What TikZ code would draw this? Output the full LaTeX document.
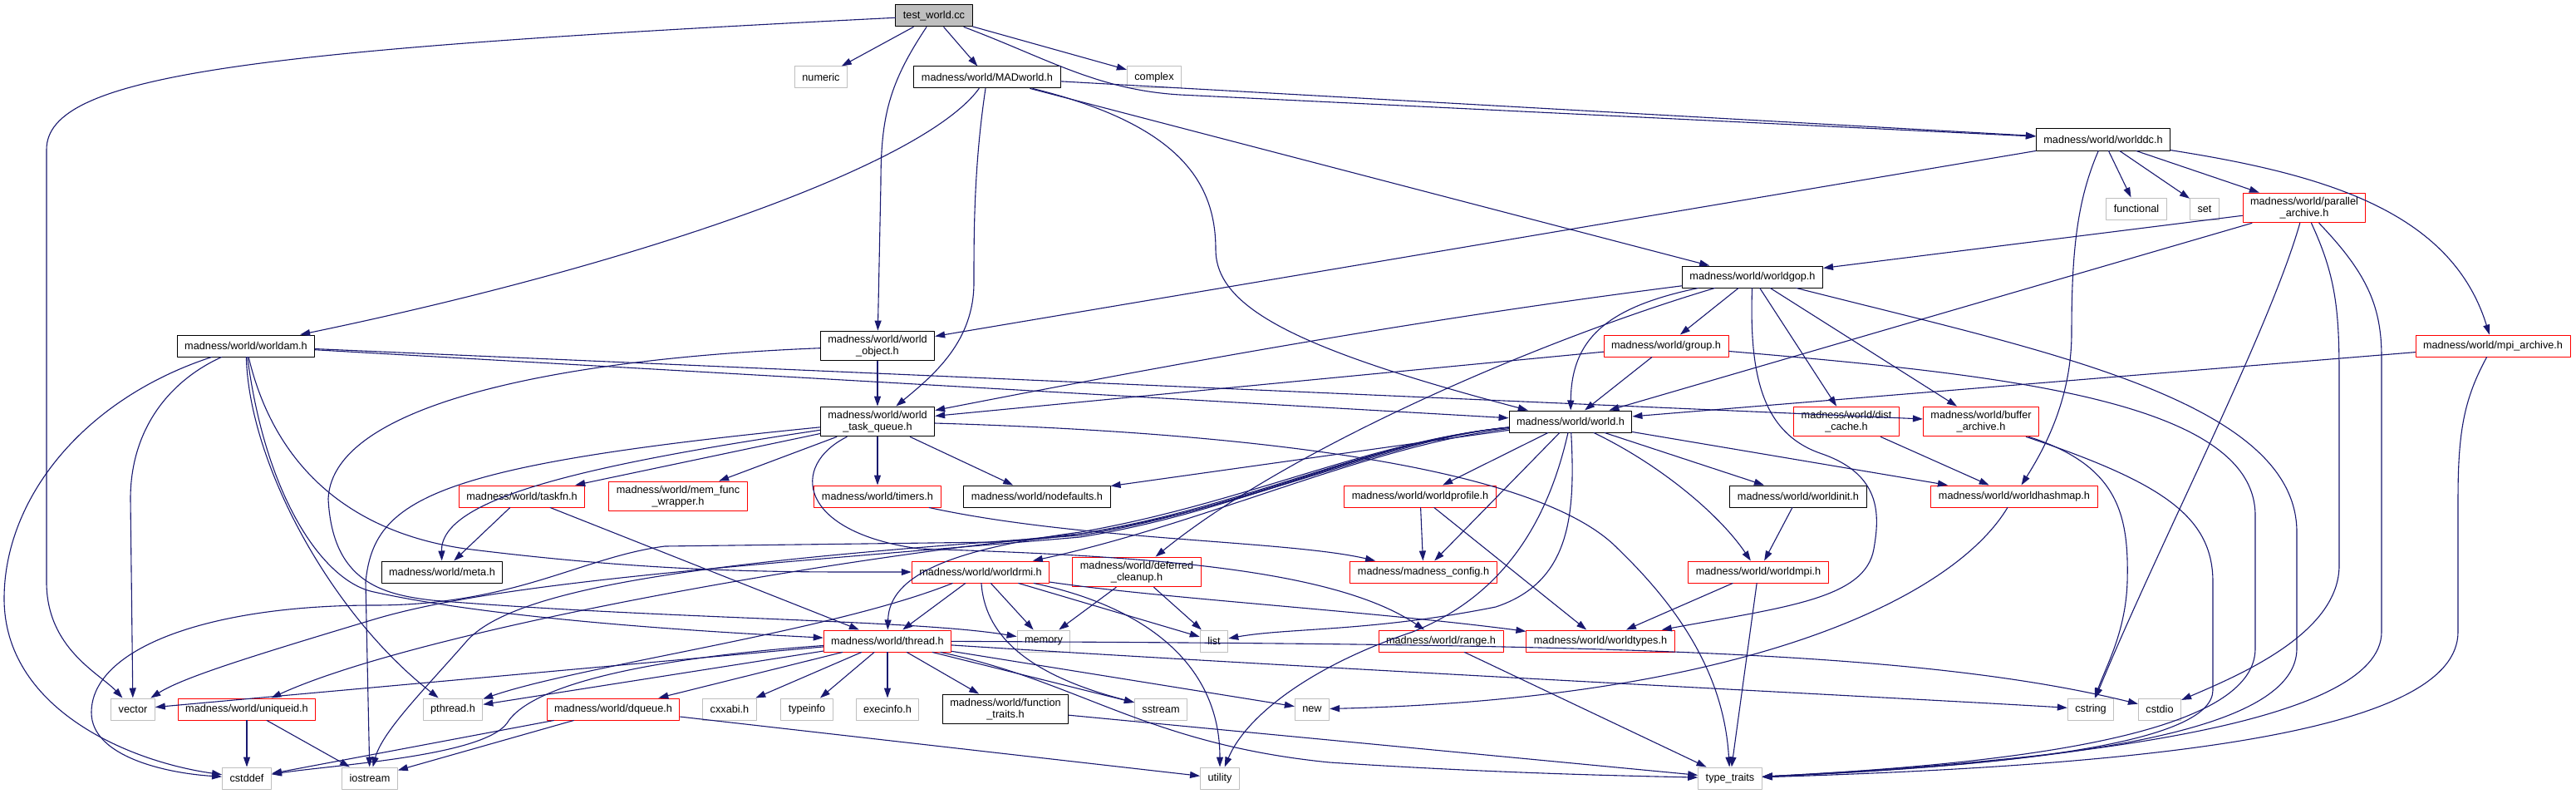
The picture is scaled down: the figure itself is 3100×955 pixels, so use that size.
\documentclass[tikz,border=0pt]{standalone}
\usepackage{fontspec}
\setmainfont{Liberation Sans}
\usetikzlibrary{positioning, calc, arrows.meta}

\definecolor{edgeblue}{HTML}{191970}
\definecolor{sysgray}{HTML}{BFBFBF}

\tikzset{
  hdr/.style={draw, line width=1pt, inner xsep=9pt, inner ysep=5pt,
    minimum height=26pt, align=center, font=\fontsize{12.7}{14}\selectfont},
  docbox/.style={hdr, draw=black},
  truncbox/.style={hdr, draw=red},
  sysbox/.style={hdr, draw=sysgray},
  rootbox/.style={hdr, draw=black, fill=sysgray},
  dep/.style={draw=edgeblue, line width=1.1pt, -{Triangle[length=12pt,width=8pt]}},
}

\begin{document}
\begin{tikzpicture}[x=1pt,y=-1pt, line cap=round, line join=round]
\useasboundingbox (0,0) rectangle (3100,955);

% row 0 and 1
\node[rootbox] (root) at (1124,19) {test\_world.cc};
\node[sysbox] (numeric) at (988,93) {numeric};
\node[docbox] (madworld) at (1188,93) {madness/world/MADworld.h};
\node[sysbox] (complex) at (1389,93) {complex};

% worlddc and its children
\node[docbox] (worlddc) at (2531,168) {madness/world/worlddc.h};
\node[sysbox] (functional) at (2571,251) {functional};
\node[sysbox] (set) at (2653,251) {set};
\node[truncbox] (parallel) at (2773,250) {madness/world/parallel\\\_archive.h};
\node[docbox] (worldgop) at (2109,333) {madness/world/worldgop.h};

% middle rows
\node[docbox] (worldam) at (296,416) {madness/world/worldam.h};
\node[docbox] (wobject) at (1056,416) {madness/world/world\\\_object.h};
\node[truncbox] (group) at (2005,416) {madness/world/group.h};
\node[truncbox] (mpiarch) at (3000,416) {madness/world/mpi\_archive.h};

\node[docbox] (taskq) at (1056,507) {madness/world/world\\\_task\_queue.h};
\node[docbox] (world) at (1890,507) {madness/world/world.h};
\node[truncbox] (distcache) at (2222,507) {madness/world/dist\\\_cache.h};
\node[truncbox] (bufarch) at (2384,507) {madness/world/buffer\\\_archive.h};

\node[truncbox] (taskfn) at (628,597) {madness/world/taskfn.h};
\node[truncbox] (memfunc) at (816,597) {madness/world/mem\_func\\\_wrapper.h};
\node[truncbox] (timers) at (1056,597) {madness/world/timers.h};
\node[docbox] (nodefaults) at (1248,597) {madness/world/nodefaults.h};
\node[truncbox] (wprofile) at (1709,597) {madness/world/worldprofile.h};
\node[docbox] (winit) at (2164,597) {madness/world/worldinit.h};
\node[truncbox] (whashmap) at (2424,597) {madness/world/worldhashmap.h};

\node[docbox] (meta) at (532,688) {madness/world/meta.h};
\node[truncbox] (wrmi) at (1180,688) {madness/world/worldrmi.h};
\node[truncbox] (deferred) at (1368,688) {madness/world/deferred\\\_cleanup.h};
\node[truncbox] (config) at (1713,688) {madness/madness\_config.h};
\node[truncbox] (wmpi) at (2116,688) {madness/world/worldmpi.h};

\node[truncbox] (thread) at (1068,771) {madness/world/thread.h};
\node[sysbox] (memory) at (1256,771) {memory};
\node[sysbox] (list) at (1461,771) {list};
\node[truncbox] (range) at (1734,771) {madness/world/range.h};
\node[truncbox] (wtypes) at (1926,771) {madness/world/worldtypes.h};

% bottom rows
\node[sysbox] (vector) at (160,853) {vector};
\node[truncbox] (uniqueid) at (297,853) {madness/world/uniqueid.h};
\node[sysbox] (pthread) at (545,853) {pthread.h};
\node[truncbox] (dqueue) at (738,853) {madness/world/dqueue.h};
\node[sysbox] (cxxabi) at (878,853) {cxxabi.h};
\node[sysbox] (typeinfo) at (971,853) {typeinfo};
\node[sysbox] (execinfo) at (1068,853) {execinfo.h};
\node[docbox] (ftraits) at (1210,853) {madness/world/function\\\_traits.h};
\node[sysbox] (sstream) at (1397,853) {sstream};
\node[sysbox] (new) at (1579,853) {new};
\node[sysbox] (cstring) at (2516,853) {cstring};
\node[sysbox] (cstdio) at (2599,853) {cstdio};

\node[sysbox] (cstddef) at (297,936) {cstddef};
\node[sysbox] (iostream) at (445,936) {iostream};
\node[sysbox] (utility) at (1468,936) {utility};
\node[sysbox] (typetraits) at (2082,936) {type\_traits};

% test_world.cc
\draw[dep] (root) .. controls (300,60) and (56,90) .. (56,180) -- (56,700)
  .. controls (56,780) and (120,810) .. (vector);
\draw[dep] (root) -- (numeric);
\draw[dep] (root) -- (madworld);
\draw[dep] (root) -- (complex);
\draw[dep] (root) .. controls (1070,100) and (1060,140) .. (1060,220) -- (wobject);
\draw[dep] (root) .. controls (1260,70) and (1320,108) .. (1420,114) -- (worlddc);

% MADworld.h
\draw[dep] (madworld) .. controls (1110,200) and (760,320) .. (worldam);
\draw[dep] (madworld) .. controls (1172,200) and (1172,280) .. (1172,340)
  .. controls (1172,410) and (1125,450) .. (taskq);
\draw[dep] (madworld) .. controls (1420,150) and (1463,220) .. (1463,300)
  .. controls (1463,370) and (1560,420) .. (world);
\draw[dep] (madworld) -- (worldgop);
\draw[dep] (madworld) -- (worlddc);

% worlddc.h
\draw[dep] (worlddc) -- (wobject);
\draw[dep] (worlddc) -- (functional);
\draw[dep] (worlddc) -- (set);
\draw[dep] (worlddc) -- (parallel);
\draw[dep] (worlddc) .. controls (2500,240) and (2493,300) .. (2493,400)
  .. controls (2493,480) and (2460,540) .. (whashmap);
\draw[dep] (worlddc) .. controls (2800,210) and (2950,255) .. (mpiarch);

% parallel_archive.h
\draw[dep] (parallel) -- (worldgop);
\draw[dep] (parallel) -- (world);
\draw[dep] (parallel) .. controls (2730,400) and (2600,650) .. (cstring);
\draw[dep] (parallel) .. controls (2810,330) and (2815,370) .. (2815,450) -- (2815,680)
  .. controls (2815,760) and (2700,810) .. (cstdio);
\draw[dep] (parallel) .. controls (2850,330) and (2866,370) .. (2866,430) -- (2866,760)
  .. controls (2866,870) and (2500,915) .. (typetraits);

% mpi_archive.h
\draw[dep] (mpiarch) -- (world);
\draw[dep] (mpiarch) .. controls (2965,480) and (2958,520) .. (2958,600) -- (2958,760)
  .. controls (2958,880) and (2600,920) .. (typetraits);

% worldgop.h
\draw[dep] (worldgop) .. controls (1700,385) and (1400,440) .. (taskq);
\draw[dep] (worldgop) .. controls (1930,370) and (1891,410) .. (world);
\draw[dep] (worldgop) -- (group);
\draw[dep] (worldgop) .. controls (1850,410) and (1550,540) .. (deferred);
\draw[dep] (worldgop) -- (distcache);
\draw[dep] (worldgop) -- (bufarch);
\draw[dep] (worldgop) .. controls (2105,450) and (2120,520) .. (2190,545)
  .. controls (2265,570) and (2262,620) .. (2255,660)
  .. controls (2245,720) and (2150,730) .. (wtypes);
\draw[dep] (worldgop) .. controls (2450,420) and (2764,480) .. (2764,640) -- (2764,780)
  .. controls (2764,870) and (2550,915) .. (typetraits);

% group.h
\draw[dep] (group) -- (taskq);
\draw[dep] (group) -- (world);
\draw[dep] (group) .. controls (2400,450) and (2714,480) .. (2714,620) -- (2714,780)
  .. controls (2714,870) and (2500,915) .. (typetraits);

% archives and hashmap
\draw[dep] (distcache) -- (whashmap);
\draw[dep] (bufarch) .. controls (2550,560) and (2562,620) .. (2560,700)
  .. controls (2558,760) and (2535,800) .. (cstring);
\draw[dep] (bufarch) .. controls (2600,580) and (2663,620) .. (2663,700) -- (2663,830)
  .. controls (2663,890) and (2450,920) .. (typetraits);
\draw[dep] (whashmap) .. controls (2350,720) and (2100,840) .. (new);

% worldam.h
\draw[dep] (worldam) -- (world);
\draw[dep] (worldam) -- (bufarch);
\draw[dep] (worldam) .. controls (200,460) and (157,520) .. (157,600) -- (vector);
\draw[dep] (worldam) .. controls (100,480) and (5,600) .. (5,720)
  .. controls (5,850) and (150,915) .. (cstddef);
\draw[dep] (worldam) .. controls (300,560) and (400,740) .. (pthread);
\draw[dep] (worldam) .. controls (320,600) and (390,700) .. (450,712)
  .. controls (600,745) and (850,760) .. (thread);
\draw[dep] (worldam) .. controls (330,560) and (420,640) .. (560,660)
  .. controls (800,690) and (950,688) .. (wrmi);

% world_object.h and world_task_queue.h
\draw[dep] (wobject) -- (taskq);
\draw[dep] (wobject) .. controls (700,430) and (400,480) .. (395,600)
  .. controls (400,700) and (460,715) .. (520,722)
  .. controls (800,745) and (1100,745) .. (memory);
\draw[dep] (taskq) -- (taskfn);
\draw[dep] (taskq) -- (memfunc);
\draw[dep] (taskq) -- (timers);
\draw[dep] (taskq) -- (nodefaults);
\draw[dep] (taskq) .. controls (520,560) and (450,600) .. (440,700) -- (iostream);
\draw[dep] (taskq) .. controls (700,560) and (530,600) .. (meta);
\draw[dep] (taskq) .. controls (950,560) and (960,640) .. (1106,660)
  .. controls (1350,668) and (1600,680) .. (range);
\draw[dep] (taskq) .. controls (1500,520) and (1850,560) .. (1947,660)
  .. controls (2030,740) and (2075,820) .. (typetraits);
\draw[dep] (taskfn) -- (meta);
\draw[dep] (taskfn) -- (thread);
\draw[dep] (timers) .. controls (1300,650) and (1550,650) .. (config);

% world.h
\draw[dep] (world) -- (nodefaults);
\draw[dep] (world) -- (wprofile);
\draw[dep] (world) -- (config);
\draw[dep] (world) -- (winit);
\draw[dep] (world) -- (whashmap);
\draw[dep] (world) .. controls (2000,560) and (2070,620) .. (wmpi);
\draw[dep] (world) .. controls (1650,530) and (1500,605) .. (1300,640)
  .. controls (1150,660) and (1070,690) .. (thread);
\draw[dep] (world) .. controls (1650,535) and (1450,630) .. (wrmi);
\draw[dep] (world) .. controls (1650,530) and (1500,610) .. (1300,642)
  .. controls (1000,670) and (500,760) .. (uniqueid);
\draw[dep] (world) .. controls (1650,530) and (1500,612) .. (1300,644)
  .. controls (900,672) and (620,700) .. (560,773)
  .. controls (510,830) and (460,880) .. (iostream);
\draw[dep] (world) .. controls (1650,530) and (1500,614) .. (1300,646)
  .. controls (900,680) and (600,700) .. (450,745)
  .. controls (300,790) and (220,815) .. (vector);
\draw[dep] (world) .. controls (1650,530) and (1450,640) .. (1200,652) -- (800,657)
  .. controls (700,670) and (620,728) .. (450,728)
  .. controls (250,728) and (110,780) .. (110,857)
  .. controls (110,910) and (200,930) .. (cstddef);
\draw[dep] (world) .. controls (1896,620) and (1890,700) .. (1800,730)
  .. controls (1650,760) and (1550,755) .. (list);
\draw[dep] (world) .. controls (1860,640) and (1800,720) .. (1700,760)
  .. controls (1580,800) and (1500,860) .. (utility);
\draw[dep] (wprofile) -- (config);
\draw[dep] (wprofile) -- (wtypes);
\draw[dep] (winit) -- (wmpi);
\draw[dep] (wmpi) -- (wtypes);
\draw[dep] (wmpi) -- (typetraits);
\draw[dep] (range) -- (typetraits);

% worldrmi.h and deferred_cleanup.h
\draw[dep] (wrmi) -- (thread);
\draw[dep] (wrmi) -- (memory);
\draw[dep] (wrmi) -- (list);
\draw[dep] (wrmi) .. controls (1185,760) and (1230,810) .. (sstream);
\draw[dep] (wrmi) .. controls (1400,720) and (1650,735) .. (wtypes);
\draw[dep] (wrmi) .. controls (1380,730) and (1468,800) .. (utility);
\draw[dep] (wrmi) .. controls (1000,760) and (700,800) .. (pthread);
\draw[dep] (deferred) -- (memory);
\draw[dep] (deferred) -- (list);

% thread.h
\draw[dep] (thread) -- (cxxabi);
\draw[dep] (thread) -- (typeinfo);
\draw[dep] (thread) -- (execinfo);
\draw[dep] (thread) -- (ftraits);
\draw[dep] (thread) -- (sstream);
\draw[dep] (thread) -- (new);
\draw[dep] (thread) -- (pthread);
\draw[dep] (thread) -- (vector);
\draw[dep] (thread) -- (dqueue);
\draw[dep] (thread) .. controls (800,790) and (640,820) .. (610,870)
  .. controls (580,910) and (400,920) .. (cstddef);
\draw[dep] (thread) .. controls (1600,805) and (2300,840) .. (cstring);
\draw[dep] (thread) .. controls (1900,775) and (2300,780) .. (cstdio);
\draw[dep] (thread) .. controls (1300,820) and (1380,895) .. (1600,917)
  .. controls (1800,930) and (1950,933) .. (typetraits);
\draw[dep] (ftraits) -- (typetraits);

% small headers
\draw[dep] (uniqueid) -- (cstddef);
\draw[dep] (uniqueid) -- (iostream);
\draw[dep] (dqueue) -- (cstddef);
\draw[dep] (dqueue) -- (iostream);
\draw[dep] (dqueue) -- (utility);

\end{tikzpicture}
\end{document}
